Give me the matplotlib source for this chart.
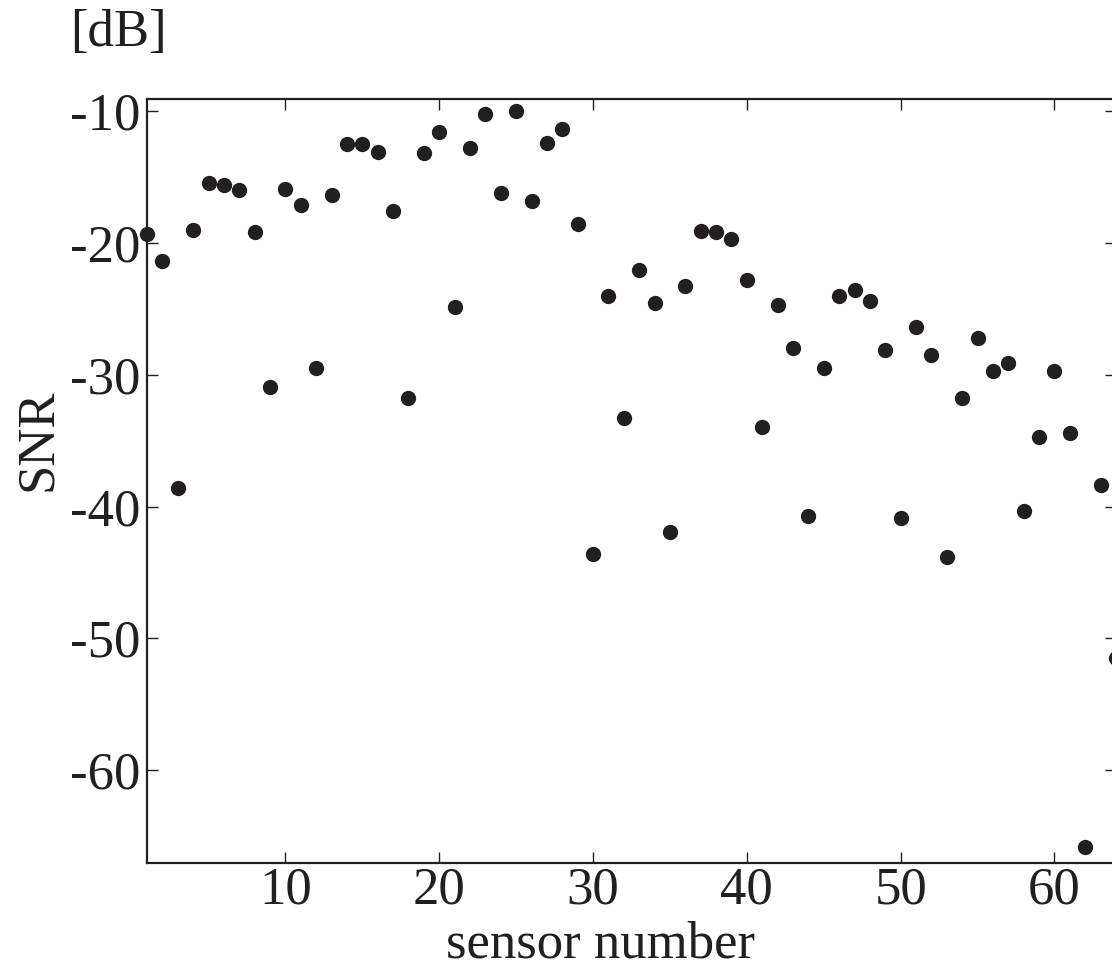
import matplotlib
matplotlib.use("Agg")
import matplotlib.pyplot as plt

sensor = list(range(1, 65))
snr = [-19.3, -21.4, -38.6, -19.0, -15.5, -15.6, -16.0, -19.2, -30.9, -15.9,
       -17.1, -29.5, -16.4, -12.5, -12.5, -13.1, -17.6, -31.8, -13.2, -11.6,
       -24.9, -12.8, -10.2, -16.2, -10.0, -16.8, -12.4, -11.4, -18.6, -43.6,
       -24.0, -33.3, -22.1, -24.6, -41.9, -23.3, -19.1, -19.2, -19.7, -22.8,
       -34.0, -24.7, -28.0, -40.7, -29.5, -24.0, -23.6, -24.4, -28.1, -40.9,
       -26.4, -28.5, -43.8, -31.8, -27.2, -29.7, -29.1, -40.3, -34.7, -29.7,
       -34.4, -65.8, -38.4, -51.5]
xticks = [10, 20, 30, 40, 50, 60]
yticks = [-60, -50, -40, -30, -20, -10]

plt.rcParams['font.family'] = ['Liberation Serif', 'DejaVu Serif']
col = '#231f20'

fig = plt.figure(figsize=(11.12, 9.74), dpi=100)
ax = fig.add_axes([147/1112, 111.3/974, (1116-147)/1112, (862.7-99)/974])
ax.plot(sensor, snr, 'o', color=col, markersize=10, clip_on=False)
ax.set_xlim(1, 64)
ax.set_ylim(-67, -9.1)
ax.set_xticks(xticks)
ax.set_yticks(yticks)
ax.set_xticklabels([str(v) for v in xticks])
ax.set_yticklabels([str(v) for v in yticks])
ax.tick_params(direction='in', length=8, width=1, color=col, labelcolor=col,
               labelsize=38, top=True, right=True)
ax.tick_params(axis='x', pad=3)
ax.tick_params(axis='y', pad=5)
for s in ax.spines.values():
    s.set_linewidth(1.6)
    s.set_color(col)

fig.text(600/1112, 1 - 945/974, 'sensor number', fontsize=38, color=col,
         ha='center', va='center')
fig.text(38/1112, 1 - 440/974, 'SNR', fontsize=38, color=col, rotation=90,
         ha='center', va='center')
fig.text(118/1112, 1 - 33/974, '[dB]', fontsize=38, color=col,
         ha='center', va='center')

fig.savefig('out.png', dpi=100)
